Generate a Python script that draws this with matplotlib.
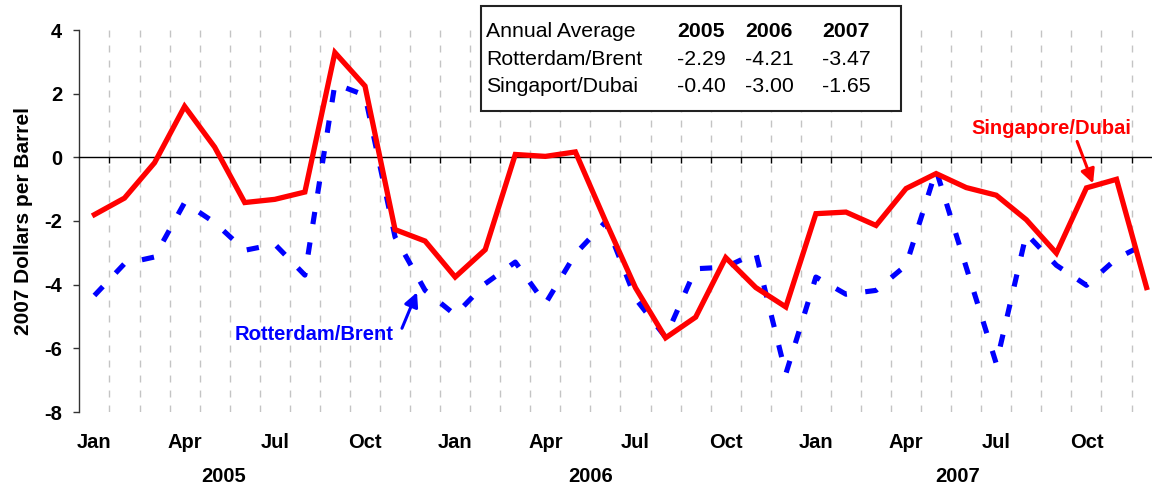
import matplotlib
matplotlib.use("Agg")
import matplotlib.pyplot as plt
from matplotlib.patches import Rectangle
import numpy as np

plt.rcParams['font.family'] = ['Liberation Sans', 'DejaVu Sans']

# ---- data ----
years = ["2005", "2006", "2007"]
month_labels = ["Jan", "Apr", "Jul", "Oct"]
singapore_dubai = [-1.80, -1.28, -0.17, 1.60, 0.32, -1.42, -1.32, -1.09, 3.29, 2.24, -2.27, -2.63,
                   -3.76, -2.90, 0.09, 0.03, 0.17, -2.00, -4.10, -5.67, -5.02, -3.15, -4.09, -4.70,
                   -1.77, -1.72, -2.14, -0.98, -0.51, -0.95, -1.19, -1.96, -3.01, -0.96, -0.69, -4.09]
rotterdam_brent = [-4.34, -3.34, -3.13, -1.42, -2.05, -2.92, -2.73, -3.70, 2.31, 1.95, -2.50, -4.18,
                   -4.95, -3.97, -3.29, -4.60, -3.03, -2.03, -4.44, -5.65, -3.50, -3.45, -3.00, -6.80,
                   -3.76, -4.30, -4.18, -3.39, -0.40, -3.45, -6.48, -2.40, -3.39, -4.02, -3.18, -2.70]
table_rows = ["Rotterdam/Brent", "Singaport/Dubai"]
table_values = [["-2.29", "-4.21", "-3.47"],
                ["-0.40", "-3.00", "-1.65"]]

RED = "#FF0000"
BLUE = "#0000FF"

fig = plt.figure(figsize=(11.52, 4.88), dpi=100)
ax = fig.add_axes([79.4 / 1152, 76 / 488, 1082.2 / 1152, 382 / 488])

n = len(singapore_dubai)
x = np.arange(n)

ax.plot(x, rotterdam_brent, color=BLUE, lw=3.7, linestyle=(0, (2.4, 3.6)),
        solid_capstyle='butt', dash_capstyle='butt', zorder=3)
ax.plot(x, singapore_dubai, color=RED, lw=3.8, solid_joinstyle='miter', zorder=4)

ax.set_xlim(-0.5, n - 0.5)
ax.set_ylim(-8, 4)

# spines
for s in ["top", "right"]:
    ax.spines[s].set_visible(False)
ax.spines["left"].set_color("#333333")
ax.spines["left"].set_linewidth(1.0)
ax.spines["bottom"].set_position(("data", 0))
ax.spines["bottom"].set_color("black")
ax.spines["bottom"].set_linewidth(1.0)

# x ticks at month boundaries on zero line
bounds = np.arange(0.5, n - 0.5 + 1e-9, 1.0)
ax.set_xticks(bounds)
ax.set_xticklabels([])
ax.tick_params(axis="x", direction="out", length=4.5, width=1.0, color="black")
ax.grid(axis="x", color="#C4C4C4", linestyle=(0, (5, 5.8)), linewidth=1.0, zorder=0)

# y ticks
yt = np.arange(-8, 5, 2)
ax.set_yticks(yt)
ax.set_yticklabels([str(v) for v in yt], fontsize=14.5, fontweight="bold")
ax.tick_params(axis="y", direction="out", length=4.5, width=1.0, color="#333333", pad=8)
ax.set_ylabel("2007 Dollars per Barrel", fontsize=15, fontweight="bold", labelpad=8)

# month & year labels
tr = ax.get_xaxis_transform()
for yi in range(3):
    for mi, m in enumerate(month_labels):
        ax.text(yi * 12 + mi * 3, -0.081, m, transform=tr, ha="center", va="center",
                fontsize=14.5, fontweight="bold", clip_on=False)
year_pos = [4.3, 16.5, 28.7]
for yp, yl in zip(year_pos, years):
    ax.text(yp, -0.17, yl, transform=tr, ha="center", va="center",
            fontsize=14.5, fontweight="bold", clip_on=False)

# annotations
ax.text(7.32, -5.56, "Rotterdam/Brent", color=BLUE, fontsize=14.5, fontweight="bold",
        ha="center", va="center", zorder=6)
ax.annotate("", xy=(10.73, -4.24), xytext=(10.23, -5.37),
            arrowprops=dict(arrowstyle="-|>", color=BLUE, lw=2.2, mutation_scale=21,
                            shrinkA=0, shrinkB=0), zorder=6)
ax.text(31.82, 0.91, "Singapore/Dubai", color=RED, fontsize=14.5, fontweight="bold",
        ha="center", va="center", zorder=6)
ax.annotate("", xy=(33.22, -0.82), xytext=(32.69, 0.50),
            arrowprops=dict(arrowstyle="-|>", color=RED, lw=2.2, mutation_scale=21,
                            shrinkA=0, shrinkB=0), zorder=6)

# table box
box = Rectangle((481 / 1152, 1 - 111 / 488), 420 / 1152, 105 / 488, transform=fig.transFigure,
                facecolor="white", edgecolor="#222222", lw=1.5, zorder=7, clip_on=False)
ax.add_patch(box)
lx = 486 / 1152
col_x = [701 / 1152, 769 / 1152, 846 / 1152]
base_y = [1 - 36.7 / 488, 1 - 65 / 488, 1 - 91.7 / 488]
fig.text(lx, base_y[0], "Annual Average", fontsize=15.3, va="baseline", ha="left", zorder=8)
for cx, yl in zip(col_x, years):
    fig.text(cx, base_y[0], yl, fontsize=15.3, fontweight="bold", va="baseline", ha="center", zorder=8)
for ri, (rname, vals) in enumerate(zip(table_rows, table_values)):
    fig.text(lx, base_y[ri + 1], rname, fontsize=15.3, va="baseline", ha="left", zorder=8)
    for cx, v in zip(col_x, vals):
        fig.text(cx, base_y[ri + 1], v, fontsize=15.3, va="baseline", ha="center", zorder=8)

fig.savefig("out.png", dpi=100)
